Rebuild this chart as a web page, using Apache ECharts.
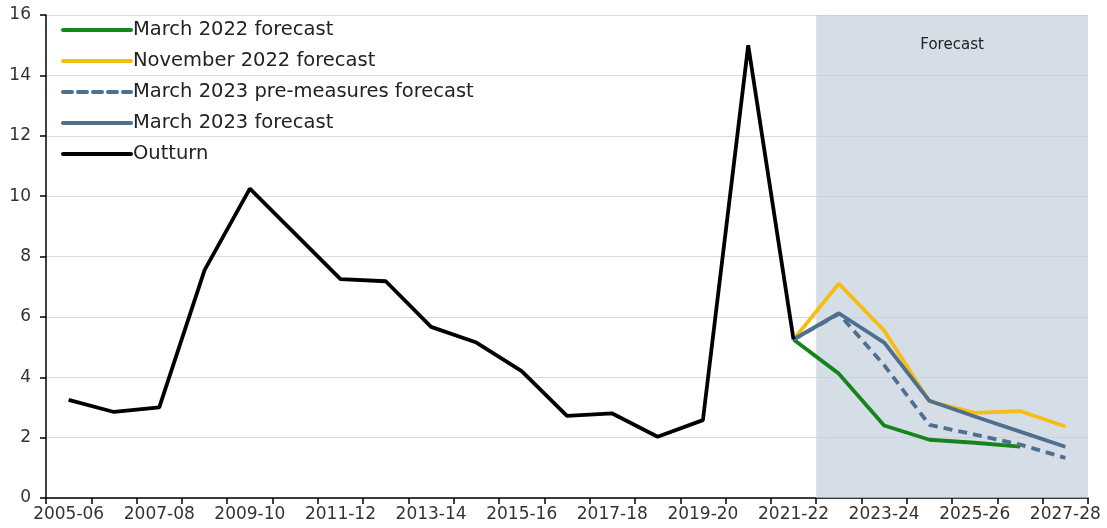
<!DOCTYPE html>
<html>
<head>
<meta charset="utf-8">
<script src="https://cdn.jsdelivr.net/npm/echarts@6/dist/echarts.min.js"></script>
<style>
html,body{margin:0;padding:0;background:#fff;}
#chart{width:1107px;height:528px;}
</style>
</head>
<body>
<div id="chart"></div>
<script>
const categories = ['2005-06','2006-07','2007-08','2008-09','2009-10','2010-11','2011-12','2012-13','2013-14','2014-15','2015-16','2016-17','2017-18','2018-19','2019-20','2020-21','2021-22','2022-23','2023-24','2024-25','2025-26','2026-27','2027-28'];
const outturn = [3.25,2.85,3.0,7.55,10.25,8.75,7.25,7.18,5.67,5.15,4.2,2.72,2.8,2.03,2.58,15.0,5.25];
const forecastFrom = '2021-22';
const march2022 = [5.25,4.12,2.4,1.93,1.83,1.7];
const november2022 = [5.25,7.1,5.55,3.2,2.82,2.88,2.37];
const march2023Pre = [5.25,6.1,4.4,2.42,2.1,1.77,1.33];
const march2023 = [5.25,6.12,5.15,3.22,2.7,2.2,1.7];
const yTicks = {min:0, max:16, interval:2};
const shadeStartCategory = '2022-23';

const startIdx = categories.indexOf(forecastFrom);
function pad(arr){ const out = new Array(startIdx).fill(null); return out.concat(arr); }

const FONT = 'DejaVu Sans';
const chart = echarts.init(document.getElementById('chart'));
const shadeStart = categories.indexOf(shadeStartCategory);
const shadeEnd = categories.length;

chart.setOption({
  animation:false,
  backgroundColor:'#ffffff',
  textStyle:{fontFamily:FONT},
  grid:{left:46,right:19,top:15,bottom:30,containLabel:false},
  legend:{
    orient:'vertical', left:56, top:14,
    itemWidth:68, itemHeight:14, itemGap:9,
    itemStyle:{opacity:0},
    lineStyle:{width:4,cap:'round'},
    textStyle:{fontFamily:FONT,fontSize:19.5,color:'#222',lineHeight:22,padding:[0,0,0,-3]},
    data:['March 2022 forecast','November 2022 forecast','March 2023 pre-measures forecast','March 2023 forecast','Outturn']
  },
  xAxis:[{
    type:'category', data:categories, boundaryGap:true,
    axisLine:{lineStyle:{color:'#000',width:1.5}},
    axisTick:{show:true,interval:0,length:6,lineStyle:{color:'#000',width:1.5}},
    axisLabel:{interval:1,fontFamily:FONT,fontSize:17,color:'#333',margin:8},
    splitLine:{show:false}
  },{
    type:'value', min:0, max:categories.length, show:false
  }],
  yAxis:{
    type:'value', min:yTicks.min, max:yTicks.max, interval:yTicks.interval,
    axisLine:{show:true,lineStyle:{color:'#000',width:1.5}},
    axisTick:{show:true,length:6,lineStyle:{color:'#000',width:1.5}},
    axisLabel:{fontFamily:FONT,fontSize:17,color:'#333',margin:15},
    splitLine:{show:true,lineStyle:{color:'#d9d9d9',width:1}}
  },
  series:[
    {
      name:'shade', type:'line', xAxisIndex:1, data:[[shadeStart,0],[shadeEnd,0]],
      symbol:'none', lineStyle:{opacity:0}, silent:true, z:1,
      markArea:{
        silent:true,
        itemStyle:{color:'rgba(195,208,221,0.7)'},
        label:{show:true,position:'insideTop',distance:23,color:'#222',fontFamily:FONT,fontSize:15},
        data:[[{name:'Forecast',xAxis:shadeStart},{xAxis:shadeEnd}]]
      }
    },
    {name:'November 2022 forecast',type:'line',data:pad(november2022),symbol:'none',
      lineStyle:{color:'#f7bd13',width:3.8},itemStyle:{color:'#f7bd13'},z:3},
    {name:'March 2022 forecast',type:'line',data:pad(march2022),symbol:'none',
      lineStyle:{color:'#15851b',width:3.8},itemStyle:{color:'#15851b'},z:3},
    {name:'March 2023 pre-measures forecast',type:'line',data:pad(march2023Pre),symbol:'none',
      lineStyle:{color:'#4f6f8f',width:3.8,type:[9,6]},itemStyle:{color:'#4f6f8f'},z:4},
    {name:'March 2023 forecast',type:'line',data:pad(march2023),symbol:'none',
      lineStyle:{color:'#4f6f8f',width:3.8},itemStyle:{color:'#4f6f8f'},z:5},
    {name:'Outturn',type:'line',data:outturn,symbol:'none',
      lineStyle:{color:'#000',width:3.8},itemStyle:{color:'#000'},z:6}
  ]
});
</script>
</body>
</html>
